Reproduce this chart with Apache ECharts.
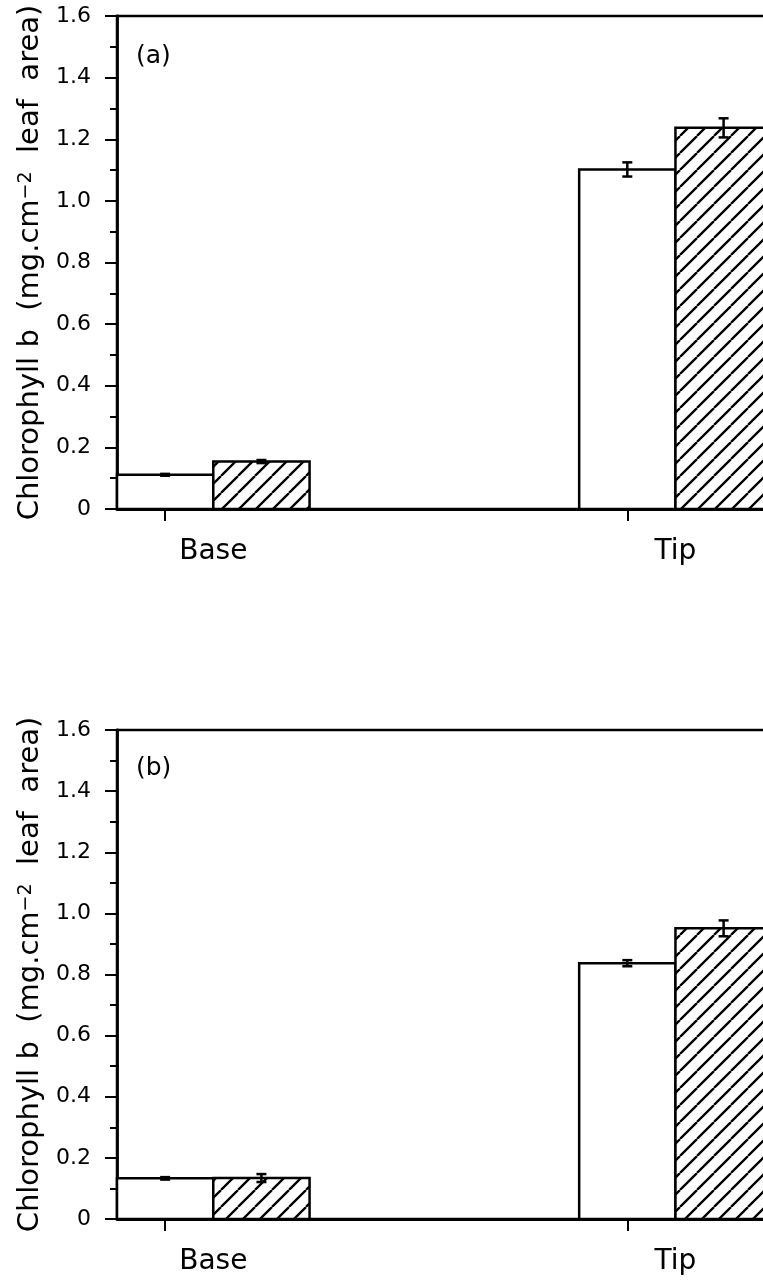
<!DOCTYPE html>
<html>
<head>
<meta charset="utf-8">
<script src="https://cdn.jsdelivr.net/npm/echarts@6/dist/echarts.min.js"></script>
<style>
  html, body { margin: 0; padding: 0; background: #fff; }
  #main { width: 763px; height: 1280px; }
</style>
</head>
<body>
<div id="main"></div>
<script>
// data
var categories = ['Base', 'Tip'];
var yTicks = [0, 0.2, 0.4, 0.6, 0.8, 1.0, 1.2, 1.4, 1.6];

// panel (a)
var aOpen = [0.111, 1.102];
var aOpenErr = [0.003, 0.023];
var aHatch = [0.154, 1.237];
var aHatchErr = [0.005, 0.031];

// panel (b)
var bOpen = [0.133, 0.837];
var bOpenErr = [0.004, 0.010];
var bHatch = [0.134, 0.951];
var bHatchErr = [0.013, 0.026];

// layout (x units: one bar = 2 units)
var groupPos = [1, 10.6];
var barHalf = 1;
var hatchOffset = 2;
var labelPos = groupPos.map(function (p) { return p + barHalf; });

// diagonal hatch tile
function makeHatch() {
  var s = 17;
  var c = document.createElement('canvas');
  c.width = s; c.height = s;
  var ctx = c.getContext('2d');
  ctx.fillStyle = '#fff';
  ctx.fillRect(0, 0, s, s);
  ctx.strokeStyle = '#000';
  ctx.lineWidth = 2.3;
  ctx.beginPath();
  for (var k = -1; k <= 1; k++) {
    ctx.moveTo(k * s, s);
    ctx.lineTo(k * s + s, 0);
  }
  ctx.stroke();
  return { image: c, repeat: 'repeat' };
}
var hatchFill = makeHatch();

function barRender(offset, fill) {
  return function (params, api) {
    var x = api.value(0) + offset;
    var p0 = api.coord([x - barHalf, 0]);
    var p1 = api.coord([x + barHalf, api.value(1)]);
    return {
      type: 'rect',
      shape: { x: p0[0], y: p1[1], width: p1[0] - p0[0], height: p0[1] - p1[1] },
      style: { fill: fill, stroke: '#000', lineWidth: 2.5 }
    };
  };
}

function errRender(offset) {
  return function (params, api) {
    var x = api.value(0) + offset;
    var v = api.value(1), e = api.value(2);
    var lo = api.coord([x, v - e]);
    var hi = api.coord([x, v + e]);
    var cap = 5;
    var st = { stroke: '#000', lineWidth: 2.5 };
    return {
      type: 'group',
      children: [
        { type: 'line', shape: { x1: lo[0], y1: lo[1], x2: hi[0], y2: hi[1] }, style: st },
        { type: 'line', shape: { x1: lo[0] - cap, y1: lo[1], x2: lo[0] + cap, y2: lo[1] }, style: st },
        { type: 'line', shape: { x1: hi[0] - cap, y1: hi[1], x2: hi[0] + cap, y2: hi[1] }, style: st }
      ]
    };
  };
}

function rows(vals, errs) {
  return groupPos.map(function (p, i) { return [p, vals[i], errs[i]]; });
}

var grids = [
  { left: 117, top: 16, width: 674, height: 493 },
  { left: 117, top: 730, width: 674, height: 489 }
];

function xAxisFor(gi) {
  return {
    gridIndex: gi, type: 'value', min: 0, max: 14,
    axisLine: { show: true, onZero: true, lineStyle: { color: '#000', width: 2.8 } },
    axisTick: { show: true, customValues: groupPos, length: 12, lineStyle: { color: '#000', width: 2 } },
    axisLabel: {
      show: true, customValues: labelPos, margin: 29, fontSize: 28, color: '#000',
      formatter: function (v) {
        for (var i = 0; i < labelPos.length; i++) {
          if (Math.abs(labelPos[i] - v) < 1e-6) return categories[i];
        }
        return '';
      }
    },
    splitLine: { show: false }
  };
}

function yAxisFor(gi) {
  return {
    gridIndex: gi, type: 'value', min: yTicks[0], max: yTicks[yTicks.length - 1], interval: 0.2,
    axisLine: { show: true, lineStyle: { color: '#000', width: 2.8 } },
    axisTick: { show: true, length: 12, lineStyle: { color: '#000', width: 2 } },
    minorTick: { show: true, splitNumber: 2, length: 7, lineStyle: { color: '#000', width: 2 } },
    splitLine: { show: false },
    axisLabel: {
      margin: 26, fontSize: 22, color: '#000',
      formatter: function (v) { return v === 0 ? '0' : v.toFixed(1); }
    },
    name: 'Chlorophyll b  (mg.cm{sup|\u22122}  leaf  area)',
    nameLocation: 'middle', nameRotate: 90, nameGap: 68,
    nameTextStyle: {
      fontSize: 29, color: '#000',
      rich: { sup: { fontSize: 19, verticalAlign: 'top', color: '#000' } }
    }
  };
}

function panelSeries(gi, open, openErr, hatch, hatchErr) {
  return [
    { type: 'custom', xAxisIndex: gi, yAxisIndex: gi, renderItem: barRender(0, '#fff'), data: rows(open, openErr), z: 3 },
    { type: 'custom', xAxisIndex: gi, yAxisIndex: gi, renderItem: barRender(hatchOffset, hatchFill), data: rows(hatch, hatchErr), z: 3 },
    { type: 'custom', xAxisIndex: gi, yAxisIndex: gi, renderItem: errRender(0), data: rows(open, openErr), z: 4 },
    { type: 'custom', xAxisIndex: gi, yAxisIndex: gi, renderItem: errRender(hatchOffset), data: rows(hatch, hatchErr), z: 4 }
  ];
}

var chart = echarts.init(document.getElementById('main'));
chart.setOption({
  backgroundColor: '#fff',
  animation: false,
  textStyle: { fontFamily: 'DejaVu Sans' },
  title: [
    { text: '(a)', left: 131, top: 39, textStyle: { fontSize: 25, fontWeight: 'normal', color: '#000' } },
    { text: '(b)', left: 131, top: 751, textStyle: { fontSize: 25, fontWeight: 'normal', color: '#000' } }
  ],
  grid: grids.map(function (g) {
    return {
      left: g.left, top: g.top, width: g.width, height: g.height,
      outerBoundsMode: 'none', containLabel: false,
      show: true, borderColor: '#000', borderWidth: 2.5, backgroundColor: 'transparent'
    };
  }),
  xAxis: [xAxisFor(0), xAxisFor(1)],
  yAxis: [yAxisFor(0), yAxisFor(1)],
  series: panelSeries(0, aOpen, aOpenErr, aHatch, aHatchErr)
    .concat(panelSeries(1, bOpen, bOpenErr, bHatch, bHatchErr))
});
</script>
</body>
</html>
